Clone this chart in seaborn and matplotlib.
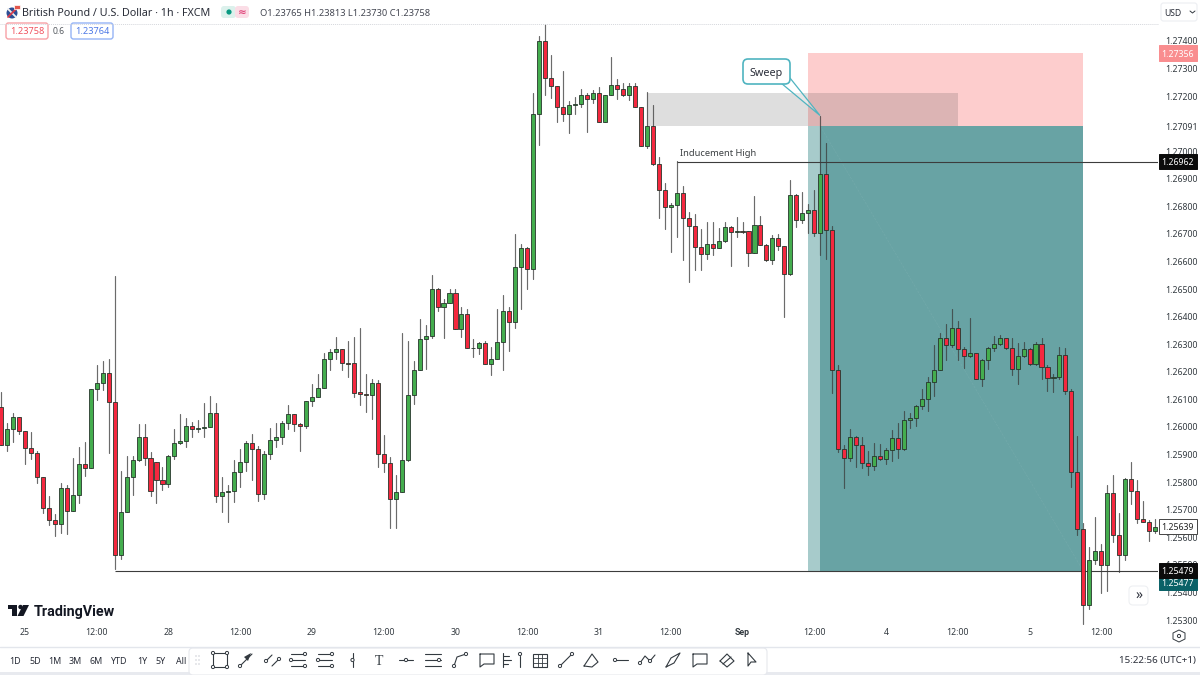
import numpy as np
import pandas as pd
import matplotlib
matplotlib.use("Agg")
import matplotlib.pyplot as plt
import seaborn as sns
from matplotlib.patches import Rectangle, FancyBboxPatch, Circle, Polygon

# hourly GBP/USD candles
opens = [
    1.26072,1.25933,1.25992,1.26035,1.25986,1.25925,1.25905,1.25820,1.25705,1.25662,
    1.25650,1.25780,1.25697,1.25752,1.25866,1.25853,1.26136,1.26159,1.26197,1.26089,
    1.25537,1.25691,1.25818,1.25879,1.25962,1.25887,1.25873,1.25808,1.25794,1.25894,
    1.25941,1.25950,1.26005,1.25991,1.25998,1.25999,1.26050,1.25748,1.25765,1.25768,
    1.25837,1.25873,1.25941,1.25921,1.25757,1.25901,1.25952,1.25965,1.26016,1.26047,
    1.26011,1.26005,1.26095,1.26109,1.26143,1.26247,1.26271,1.26282,1.26231,1.26231,
    1.26126,1.26118,1.26115,1.26159,1.25902,1.25871,1.25738,1.25765,1.25879,1.26115,
    1.26206,1.26319,1.26330,1.26500,1.26436,1.26451,1.26485,1.26356,1.26410,1.26286,
    1.26286,1.26306,1.26229,1.26247,1.26309,1.26421,1.26381,1.26581,1.26649,1.26572,
    1.27134,1.27400,1.27264,1.27238,1.27159,1.27135,1.27169,1.27171,1.27205,1.27189,
    1.27212,1.27107,1.27203,1.27241,1.27227,1.27205,1.27235,1.27159,1.27019,1.27090,
    1.26954,1.26861,1.26797,1.26806,1.26847,1.26757,1.26730,1.26654,1.26627,1.26662,
    1.26648,1.26676,1.26724,1.26708,1.26709,1.26709,1.26632,1.26731,1.26659,1.26604,
    1.26684,1.26658,1.26555,1.26840,1.26751,1.26777,1.26786,1.26705,1.26917,1.26714,
    1.26205,1.25919,1.25887,1.25963,1.25933,1.25869,1.25860,1.25893,1.25884,1.25915,
    1.25959,1.25921,1.26025,1.26032,1.26075,1.26101,1.26164,1.26206,1.26322,1.26297,
    1.26358,1.26281,1.26257,1.26268,1.26174,1.26243,1.26288,1.26301,1.26322,1.26288,
    1.26210,1.26257,1.26282,1.26228,1.26300,1.26216,1.26179,1.26180,1.26260,1.26130,
    1.25838,1.25629,1.25355,1.25517,1.25551,1.25499,1.25760,1.25607,1.25535,1.25810,
    1.25769,1.25667,1.25657,1.25623,
]
highs = [
    1.26128,1.26014,1.26052,1.26035,1.25986,1.25981,1.25913,1.25820,1.25751,1.25685,
    1.25796,1.25788,1.25888,1.25927,1.25945,1.26136,1.26223,1.26238,1.26246,1.26548,
    1.25841,1.25895,1.25896,1.26012,1.26012,1.25908,1.25873,1.25855,1.25899,1.25993,
    1.26046,1.26032,1.26017,1.26024,1.26086,1.26113,1.26086,1.25819,1.25788,1.25881,
    1.25919,1.25948,1.25976,1.25930,1.25912,1.25998,1.26016,1.26020,1.26078,1.26047,
    1.26016,1.26095,1.26156,1.26191,1.26267,1.26283,1.26326,1.26282,1.26312,1.26327,
    1.26358,1.26193,1.26173,1.26170,1.25971,1.25890,1.25826,1.26340,1.26313,1.26241,
    1.26392,1.26371,1.26552,1.26503,1.26465,1.26501,1.26501,1.26434,1.26428,1.26318,
    1.26309,1.26310,1.26289,1.26427,1.26477,1.26434,1.26699,1.26664,1.26654,1.27210,
    1.27418,1.27461,1.27349,1.27238,1.27291,1.27182,1.27196,1.27225,1.27212,1.27222,
    1.27234,1.27205,1.27342,1.27261,1.27246,1.27246,1.27246,1.27159,1.27216,1.27166,
    1.26979,1.26885,1.26811,1.26963,1.26875,1.26778,1.26772,1.26718,1.26742,1.26742,
    1.26720,1.26742,1.26730,1.26760,1.26745,1.26712,1.26836,1.26766,1.26664,1.26696,
    1.26700,1.26658,1.26896,1.26845,1.26851,1.26807,1.26859,1.27129,1.27029,1.26730,
    1.26223,1.25933,1.25992,1.25968,1.25962,1.25913,1.25941,1.25939,1.25925,1.25989,
    1.26015,1.26057,1.26052,1.26080,1.26139,1.26182,1.26298,1.26339,1.26374,1.26427,
    1.26384,1.26291,1.26395,1.26270,1.26247,1.26291,1.26330,1.26332,1.26324,1.26321,
    1.26305,1.26307,1.26286,1.26307,1.26321,1.26223,1.26193,1.26291,1.26287,1.26137,
    1.25968,1.25651,1.25565,1.25675,1.25576,1.25790,1.25826,1.25687,1.25814,1.25872,
    1.25806,1.25733,1.25663,1.25665,
]
lows = [
    1.25933,1.25913,1.25947,1.25975,1.25865,1.25883,1.25798,1.25687,1.25644,1.25606,
    1.25617,1.25612,1.25697,1.25723,1.25823,1.25850,1.26099,1.26134,1.25905,1.25484,
    1.25522,1.25691,1.25755,1.25877,1.25861,1.25750,1.25723,1.25771,1.25784,1.25883,
    1.25940,1.25927,1.25963,1.25981,1.25963,1.25999,1.25728,1.25691,1.25657,1.25728,
    1.25784,1.25841,1.25809,1.25732,1.25740,1.25885,1.25929,1.25939,1.25992,1.25987,
    1.25913,1.25998,1.26076,1.26107,1.26141,1.26207,1.26248,1.26207,1.26183,1.26110,
    1.26080,1.26055,1.26029,1.25856,1.25836,1.25632,1.25632,1.25765,1.25875,1.26085,
    1.26206,1.26211,1.26321,1.26419,1.26324,1.26451,1.26356,1.26326,1.26286,1.26252,
    1.26266,1.26229,1.26190,1.26247,1.26206,1.26277,1.26358,1.26427,1.26500,1.26538,
    1.27024,1.27202,1.27194,1.27105,1.27110,1.27067,1.27135,1.27162,1.27069,1.27174,
    1.27107,1.27107,1.27203,1.27191,1.27200,1.27186,1.27159,1.27019,1.27011,1.26949,
    1.26759,1.26718,1.26633,1.26690,1.26607,1.26525,1.26568,1.26568,1.26609,1.26624,
    1.26648,1.26670,1.26584,1.26690,1.26702,1.26584,1.26630,1.26659,1.26602,1.26591,
    1.26642,1.26400,1.26551,1.26724,1.26739,1.26702,1.26693,1.26624,1.26608,1.26122,
    1.25911,1.25778,1.25878,1.25854,1.25853,1.25826,1.25844,1.25881,1.25867,1.25876,
    1.25889,1.25918,1.25997,1.26004,1.26064,1.26058,1.26114,1.26205,1.26243,1.26289,
    1.26243,1.26214,1.26255,1.26173,1.26150,1.26210,1.26277,1.26299,1.26284,1.26187,
    1.26156,1.26255,1.26225,1.26225,1.26173,1.26129,1.26126,1.26173,1.26121,1.25784,
    1.25609,1.25286,1.25339,1.25503,1.25397,1.25405,1.25584,1.25473,1.25517,1.25719,
    1.25653,1.25654,1.25588,1.25615,
]
closes = [
    1.25933,1.25991,1.26035,1.25986,1.25925,1.25905,1.25820,1.25705,1.25662,1.25650,
    1.25780,1.25696,1.25752,1.25866,1.25853,1.26136,1.26159,1.26197,1.26089,1.25537,
    1.25691,1.25818,1.25879,1.25962,1.25887,1.25768,1.25808,1.25794,1.25894,1.25941,
    1.25950,1.26005,1.25991,1.25998,1.25999,1.26050,1.25748,1.25763,1.25768,1.25837,
    1.25873,1.25941,1.25921,1.25757,1.25901,1.25952,1.25965,1.26016,1.26047,1.26011,
    1.26005,1.26095,1.26109,1.26143,1.26247,1.26271,1.26282,1.26231,1.26230,1.26125,
    1.26119,1.26115,1.26159,1.25902,1.25871,1.25738,1.25765,1.25879,1.26115,1.26206,
    1.26319,1.26330,1.26501,1.26436,1.26451,1.26485,1.26356,1.26410,1.26286,1.26285,
    1.26306,1.26229,1.26247,1.26309,1.26421,1.26381,1.26581,1.26649,1.26572,1.27134,
    1.27400,1.27264,1.27238,1.27159,1.27135,1.27169,1.27171,1.27205,1.27189,1.27212,
    1.27107,1.27203,1.27241,1.27227,1.27205,1.27235,1.27159,1.27019,1.27090,1.26954,
    1.26861,1.26797,1.26806,1.26847,1.26757,1.26730,1.26654,1.26627,1.26662,1.26648,
    1.26676,1.26724,1.26708,1.26709,1.26708,1.26632,1.26731,1.26659,1.26604,1.26684,
    1.26658,1.26555,1.26840,1.26751,1.26777,1.26786,1.26705,1.26917,1.26714,1.26205,
    1.25919,1.25887,1.25963,1.25933,1.25869,1.25860,1.25893,1.25884,1.25915,1.25959,
    1.25921,1.26025,1.26032,1.26075,1.26101,1.26164,1.26206,1.26322,1.26297,1.26358,
    1.26281,1.26257,1.26268,1.26174,1.26243,1.26288,1.26301,1.26322,1.26288,1.26210,
    1.26257,1.26282,1.26228,1.26300,1.26216,1.26179,1.26180,1.26260,1.26130,1.25838,
    1.25629,1.25355,1.25517,1.25551,1.25499,1.25760,1.25607,1.25535,1.25810,1.25769,
    1.25667,1.25657,1.25623,1.25639,
]

time_ticks = [4, 16, 28, 40, 52, 64, 76, 88, 100, 112, 124, 136, 148, 160, 172, 184]
time_labels = ["25", "12:00", "28", "12:00", "29", "12:00", "30", "12:00",
               "31", "12:00", "Sep", "12:00", "4", "12:00", "5", "12:00"]
price_ticks = [1.274, 1.273, 1.272, 1.27091, 1.270, 1.269, 1.268, 1.267, 1.266, 1.265, 1.264,
               1.263, 1.262, 1.261, 1.260, 1.259, 1.258, 1.257, 1.256, 1.255, 1.254, 1.253]

stop_level = 1.27356
entry_level = 1.27091
target_level = 1.25477
inducement_level = 1.26962
low_level = 1.25479
last_price = 1.25639
supply_top = 1.27211

ranges = ["1D", "5D", "1M", "3M", "6M", "YTD", "1Y", "5Y", "All"]
range_x = [15, 35, 55, 75, 96, 119, 142, 161, 181]

GREEN = "#44ad4e"
RED = "#f4283f"
EDGE = "#26352b"
INK = "#333a40"

sns.set_theme(style="white")
plt.rcParams["font.family"] = ["Noto Sans", "DejaVu Sans"]

df = pd.DataFrame({"bar": np.arange(len(opens)), "open": opens, "high": highs,
                   "low": lows, "close": closes})
wicks = df.melt(id_vars="bar", value_vars=["high", "low"], value_name="price")

fig = plt.figure(figsize=(12, 6.75), dpi=100, facecolor="white")
ax = fig.add_axes([0, 50 / 675, 1158 / 1200, 607 / 675])

# trade zones
ax.fill_between([135, 181], entry_level, stop_level, color="#fdcdcd", lw=0, zorder=1)
ax.fill_between([135, 137], target_level, entry_level, color="#a7cbcb", lw=0, zorder=1)
ax.fill_between([137, 181], target_level, entry_level, color="#68a3a4", lw=0, zorder=1)
ax.fill_between([108, 160], entry_level, supply_top, color="#343434", alpha=0.16, lw=0, zorder=1.2)
ax.plot([137, 181], [entry_level, target_level], ls="--", lw=0.5, color="#72a9aa", zorder=1.5)

ax.hlines(inducement_level, 113, 193.5, color="#3c3c3c", lw=0.8, zorder=2)
ax.hlines(low_level, 19, 193.5, color="#3c3c3c", lw=0.8, zorder=2)

sns.lineplot(data=wicks, x="bar", y="price", units="bar", estimator=None, sort=False,
             color="#3a3a3a", lw=0.85, alpha=0.75, legend=False, ax=ax, zorder=3)
body_colors = [GREEN if c >= o else RED for o, c in zip(opens, closes)]
ax.bar(df["bar"], (df["close"] - df["open"]).abs(), bottom=df[["open", "close"]].min(axis=1),
       width=0.68, color=body_colors, edgecolor=EDGE, linewidth=0.6, zorder=4)

ax.text(113.5, inducement_level + 0.00015, "Inducement High", fontsize=6.7, color="#3c4043",
        va="bottom", ha="left", zorder=5)

ax.set_xlim(-0.17, 193.48)
ax.set_ylim(1.25282, 1.27483)
ax.set_xlabel("")
ax.set_ylabel("")
sns.despine(ax=ax, left=True, bottom=True)
ax.yaxis.tick_right()
ax.set_yticks(price_ticks, [f"{p:.5f}" for p in price_ticks])
ax.set_xticks(time_ticks, time_labels)
ax.tick_params(axis="y", length=0, pad=5.5, labelsize=6.3, labelcolor=INK)
ax.tick_params(axis="x", length=0, pad=2.5, labelsize=6.3, labelcolor=INK)
for lab in ax.get_xticklabels():
    if lab.get_text() == "Sep":
        lab.set_family("Roboto")
        lab.set_fontweight("bold")


def price_tag(price, text, bg, fg, shift=0.0, edge=None):
    tr = ax.get_yaxis_transform()
    ax.add_patch(Rectangle((1.0005, price + shift - 0.00028), 0.0333, 0.00056, transform=tr,
                           facecolor=bg, edgecolor=edge or bg, lw=0.7, clip_on=False, zorder=6))
    ax.text(1.0172, price + shift, text, transform=tr, color=fg, fontsize=6.3, ha="center",
            va="center_baseline", clip_on=False, zorder=7)


price_tag(stop_level, f"{stop_level:.5f}", "#f98d8f", "white")
price_tag(inducement_level, f"{inducement_level:.5f}", "#0b0b0b", "white")
price_tag(last_price, f"{last_price:.5f}", "white", "#222222", edge="#444444")
price_tag(target_level, f"{target_level:.5f}", "#0a6167", "white", shift=-0.00040)
price_tag(low_level, f"{low_level:.5f}", "#0b0b0b", "white")

# window furniture, drawn in screen pixels
ui = fig.add_axes([0, 0, 1, 1], zorder=5)
ui.set_xlim(0, 1200)
ui.set_ylim(675, 0)
ui.axis("off")
ui.patch.set_alpha(0)


def seg(xs, ys, lw=0.8, color=INK, **kw):
    ui.plot(xs, ys, color=color, lw=lw, solid_capstyle="round", zorder=5, **kw)


def dot(x, y, r=1.6):
    ui.add_patch(Circle((x, y), r, fc="white", ec=INK, lw=0.7, zorder=6))


def rbox(x0, y0, x1, y1, fc="white", ec="none", lw=1, pad=2.5, z=3):
    ui.add_patch(FancyBboxPatch((x0 + pad, y0 + pad), x1 - x0 - 2 * pad, y1 - y0 - 2 * pad,
                                boxstyle=f"round,pad={pad}", fc=fc, ec=ec, lw=lw, zorder=z))


# header
seg([0, 1158], [24, 24], lw=0.7, color="#d5d7dc", ls=(0, (1, 1)))
ui.add_patch(Circle((12, 13), 5.5, fc="#2d4f94", ec="none"))
seg([8, 16], [9, 17], lw=1.3, color="#f1f1f1")
seg([8, 16], [17, 9], lw=1.3, color="#d93b4a")
ui.add_patch(Rectangle((14, 5), 6, 4, fc="#e2574c", ec="white", lw=0.5, zorder=5))
ui.text(22, 12, "British Pound / U.S. Dollar · 1h · FXCM", fontsize=7.75, color="#2a2e39",
        va="center_baseline")
rbox(221, 6, 236, 18, fc="#dcf1ec", pad=3)
rbox(235, 6, 249, 18, fc="#fbdde6", pad=3)
ui.add_patch(Circle((229, 12), 2.6, fc="#089981", ec="none", zorder=4))
ui.text(242, 12, "≈", fontsize=7.5, color="#e0457b", ha="center", va="center_baseline", zorder=4,
        fontweight="bold")
ui.text(260, 12, "O1.23765 H1.23813 L1.23730 C1.23758", fontsize=6.7, color="#434651",
        va="center_baseline")
rbox(6, 23, 48, 39, ec="#f7a1a6", lw=1)
ui.text(27, 31, "1.23758", fontsize=6.6, color="#f0525f", ha="center", va="center_baseline", zorder=4)
ui.text(59, 31, "0.6", fontsize=6.2, color="#555a60", ha="center", va="center_baseline")
rbox(71, 23, 113, 39, ec="#96b4f5", lw=1)
ui.text(92, 31, "1.23764", fontsize=6.6, color="#4d78e6", ha="center", va="center_baseline", zorder=4)
rbox(1161, 3, 1197, 21, ec="#eceef2", lw=0.8)
ui.text(1164, 12, "USD", fontsize=6.2, color="#2a2e39", va="center_baseline", zorder=4)
seg([1190, 1192.5, 1195], [11, 13, 11], lw=0.7)

# Sweep callout
ui.add_patch(Polygon([(781, 83), (820, 115.5), (790, 78)], closed=True, fc=(1, 1, 1, 0.3), ec="#4fb4c0",
                     lw=0.9, zorder=4))
rbox(743, 59, 790, 84, ec="#4fb4c0", lw=1.2, pad=5, z=4)
ui.text(766.5, 72, "Sweep", fontsize=7.8, color="#2a2e39", ha="center", va="center_baseline", zorder=5)

# TradingView logo
ui.add_patch(Rectangle((8, 605), 8, 3.5, fc="#131722", ec="none"))
ui.add_patch(Rectangle((12, 605), 4.5, 11, fc="#131722", ec="none"))
ui.add_patch(Circle((20.5, 607), 2.2, fc="#131722", ec="none"))
ui.add_patch(Polygon([(23, 605), (29, 605), (23.5, 616), (17.5, 616)], closed=True, fc="#131722", ec="none"))
ui.text(34, 610.5, "TradingView", fontsize=10.4, family="Roboto", fontweight="bold", color="#131722",
        va="center_baseline")

# scroll button and settings gear
rbox(1129, 586, 1148, 605, ec="#eef0f3", lw=0.8, pad=4)
ui.text(1138.5, 594.5, "»", fontsize=10, color="#2a2e39", ha="center", va="center_baseline", zorder=4)
ui.add_patch(Polygon([(1179, 630), (1185, 633), (1185, 639), (1179, 642), (1173, 639), (1173, 633)],
                     closed=True, fc="white", ec=INK, lw=0.7))
ui.add_patch(Circle((1179, 636), 1.6, fc="white", ec=INK, lw=0.7, zorder=4))

# bottom bar
seg([0, 1200], [646.5, 646.5], lw=1, color="#e3e6ec")
ui.add_patch(Rectangle((0, 672), 1200, 3, fc="#e8eaef", ec="none"))
for label, x in zip(ranges, range_x):
    ui.text(x, 660, label, fontsize=6.4, color="#2a2e39", ha="center", va="center_baseline")
ui.text(1196, 660, "15:22:56 (UTC+1)", fontsize=7.0, color="#2a2e39", ha="right", va="center_baseline")
rbox(189, 648, 767, 675, ec="#e6e8ed", lw=0.8, pad=4, z=3)
for gx in (196, 199):
    for gy in (656, 660, 664):
        ui.add_patch(Circle((gx, gy), 0.7, fc="#c3c6cd", ec="none", zorder=4))

c = 660
ui.add_patch(Rectangle((213, c - 7), 14, 14, fc="none", ec=INK, lw=0.8, zorder=5))
for x, y in [(213, c - 7), (227, c - 7), (213, c + 7), (227, c + 7)]:
    dot(x, y)
seg([240, 252], [c + 6, c - 6])
ui.add_patch(Polygon([(251, c - 7), (244, c - 3), (248, c + 1)], closed=True, fc=INK, ec="none", zorder=5))
dot(240, c + 6)
seg([266, 272], [c + 1, c - 5]); seg([272, 279], [c + 6, c - 1])
dot(266, c + 1); dot(279, c - 1)
for mid in (298, 325):
    for dy in (-6, 0, 6):
        seg([mid - 7, mid + 7], [c + dy, c + dy])
        dot(mid + (7 if dy else -7), c + dy)
seg([352.5, 352.5], [c - 7, c + 7]); dot(352.5, c)
ui.text(379, c, "T", fontsize=10, family="Liberation Serif", color=INK, ha="center", va="center_baseline", zorder=5)
seg([399, 413], [c, c]); dot(406, c)
for dy in (-6, 0, 6):
    seg([425, 441], [c + dy, c + dy])
dot(439, c)
seg([454, 457, 466], [c + 6, c - 3, c - 6]); dot(454, c + 6); dot(466, c - 6)
for mid in (487, 700):
    seg([mid - 7, mid + 7, mid + 7, mid - 3, mid - 7, mid - 7], [c - 6, c - 6, c + 4, c + 4, c + 7, c - 6])
seg([503, 503], [c - 7, c + 7])
for dy, w in ((-4, 6), (0, 8), (4, 5)):
    seg([503, 503 + w], [c + dy, c + dy])
seg([520, 520], [c - 4, c + 7]); dot(520, c - 6)
ui.add_patch(Rectangle((533, c - 6), 14, 13, fc="none", ec=INK, lw=0.8, zorder=5))
for k in (1, 2):
    seg([533, 547], [c - 6 + 13 * k / 3] * 2, lw=0.6)
    seg([533 + 14 * k / 3] * 2, [c - 6, c + 7], lw=0.6)
seg([560, 572], [c + 6, c - 6]); dot(560, c + 6); dot(572, c - 6)
seg([584, 592, 598, 592, 584], [c + 6, c - 6, c + 2, c + 7, c + 6])
seg([615, 628], [c, c]); dot(615, c)
seg([640, 645, 650, 655], [c + 3, c - 4, c + 1, c - 5]); dot(640, c + 3); dot(650, c + 1)
seg([666, 671, 680, 674, 666], [c + 7, c - 2, c - 7, c + 3, c + 7])
seg([720, 727, 734, 727, 720], [c + 1, c - 6, c + 1, c + 7, c + 1]); seg([723, 731], [c + 4, c - 3])
seg([748, 748, 751, 756, 748], [c - 7, c + 6, c + 2, c + 2, c - 7])

fig.savefig("out.png", dpi=100)
